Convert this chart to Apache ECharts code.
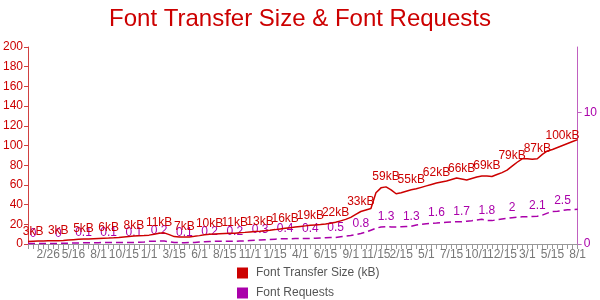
<!DOCTYPE html>
<html>
<head>
<meta charset="utf-8">
<script src="https://cdn.jsdelivr.net/npm/echarts@6/dist/echarts.min.js"></script>
<style>html,body{margin:0;padding:0;background:#fff}#c{width:600px;height:300px}</style>
</head>
<body>
<div id="c"></div>
<script>
const dates = [
'12/28/10','1/20/11','1/31/11','2/11/11','2/26/11','3/15/11','3/29/11','4/15/11','4/30/11','5/16/11',
'6/1/11','6/15/11','7/1/11','7/15/11','8/1/11','8/15/11','9/1/11','9/15/11','10/1/11','10/15/11',
'11/1/11','11/15/11','12/1/11','12/15/11','1/1/12','1/15/12','2/1/12','2/15/12','3/1/12','3/15/12',
'4/1/12','4/15/12','5/1/12','5/15/12','6/1/12','6/15/12','7/1/12','7/15/12','8/1/12','8/15/12',
'9/1/12','9/15/12','10/1/12','10/15/12','11/1/12','11/15/12','12/1/12','12/15/12','1/1/13','1/15/13',
'2/1/13','2/15/13','3/1/13','3/15/13','4/1/13','4/15/13','5/1/13','5/15/13','6/1/13','6/15/13',
'7/1/13','7/15/13','8/1/13','8/15/13','9/1/13','9/15/13','10/1/13','10/15/13','11/1/13','11/15/13',
'12/1/13','1/1/14','1/15/14','2/1/14','2/15/14','3/1/14','3/15/14','4/1/14','4/15/14','5/1/14',
'5/15/14','6/1/14','6/15/14','7/1/14','7/15/14','8/1/14','8/15/14','9/1/14','9/15/14','10/1/14',
'10/15/14','11/1/14','11/15/14','12/1/14','12/15/14','1/1/15','1/15/15','2/1/15','2/15/15','3/1/15',
'3/15/15','4/1/15','4/15/15','5/1/15','5/15/15','6/1/15','6/15/15','7/1/15','7/15/15','8/1/15'
];
const transferKB = [
2.5,2.8,3.0,3.1,3.2,3.3,3.4,3.6,4.0,4.4,
4.8,5.0,5.2,5.4,5.6,5.8,6.0,6.3,6.7,7.2,
7.6,8.0,8.3,8.6,9.0,10.0,11.0,11.3,9.5,7.5,
7.0,7.0,7.2,7.8,8.5,9.3,10.0,10.2,10.4,10.6,
10.8,11.0,11.4,11.8,12.3,12.7,13.0,13.5,14.0,14.6,
15.3,16.0,16.6,17.2,17.8,18.4,19.0,19.4,19.8,20.3,
21.0,22.0,23.5,25.0,27.0,30.0,33.0,34.5,36.0,52.0,
57.0,58.0,55.0,51.0,52.0,53.5,55.0,56.0,57.5,59.0,
60.5,62.0,63.0,64.0,65.5,67.0,66.0,65.0,66.5,68.0,
69.0,69.0,68.5,70.5,72.5,75.0,79.0,83.0,86.5,86.5,
86.0,86.5,91.0,94.5,96.0,98.0,100.0,102.0,104.0,106.0
];
const fontRequests = [
0.03,0.03,0.03,0.04,0.04,0.04,0.05,0.05,0.06,0.07,
0.08,0.10,0.10,0.10,0.10,0.11,0.11,0.11,0.11,0.12,
0.12,0.12,0.13,0.15,0.20,0.21,0.22,0.22,0.18,0.12,
0.10,0.10,0.11,0.12,0.15,0.18,0.19,0.20,0.20,0.20,
0.20,0.20,0.22,0.24,0.26,0.28,0.30,0.32,0.34,0.37,
0.39,0.40,0.40,0.41,0.41,0.42,0.42,0.44,0.46,0.48,
0.49,0.50,0.55,0.60,0.65,0.72,0.80,0.90,1.05,1.20,
1.30,1.32,1.30,1.30,1.31,1.33,1.35,1.45,1.50,1.55,
1.58,1.60,1.63,1.66,1.68,1.70,1.70,1.74,1.77,1.82,
1.88,1.80,1.78,1.85,1.90,1.95,2.00,2.04,2.07,2.08,
2.10,2.12,2.20,2.35,2.48,2.50,2.55,2.60,2.62,2.65
];
const labelIndex = [1,6,11,16,21,26,31,36,41,46,51,56,61,66,71,76,81,86,91,96,101,106];
const transferLabels = ['3kB','3kB','5kB','6kB','8kB','11kB','7kB','10kB','11kB','13kB','16kB','19kB','22kB','33kB','59kB','55kB','62kB','66kB','69kB','79kB','87kB','100kB'];
const requestLabels = ['0','0','0.1','0.1','0.1','0.2','0.1','0.2','0.2','0.3','0.4','0.4','0.5','0.8','1.3','1.3','1.6','1.7','1.8','2','2.1','2.5'];

const RED = '#cc0000', PURPLE = '#aa00aa';
const FONT = 'Liberation Sans, Arial, sans-serif';
function buildData(values, texts, color) {
  return values.map((v, i) => {
    const k = labelIndex.indexOf(i);
    if (k < 0) return v;
    return { value: v, label: { show: true, formatter: texts[k], color: color } };
  });
}
const chart = echarts.init(document.getElementById('c'), null, {renderer: 'canvas'});
chart.setOption({
  animation: false,
  textStyle: { fontFamily: FONT },
  title: {
    text: 'Font Transfer Size & Font Requests',
    left: 'center', top: 2,
    textStyle: { color: RED, fontSize: 24, fontWeight: 'normal', fontFamily: FONT }
  },
  legend: {
    orient: 'vertical', left: 237, top: 267, padding: 0, itemGap: 8,
    height: 40, width: 250,
    itemWidth: 11, itemHeight: 11, icon: 'rect',
    textStyle: { color: '#555', fontSize: 12, fontFamily: FONT, padding: [0, 0, 0, 3] },
    data: ['Font Transfer Size (kB)', 'Font Requests']
  },
  grid: { left: 27, right: 20, top: 47, bottom: 56, containLabel: false },
  xAxis: {
    type: 'category', data: dates, boundaryGap: false,
    axisLine: { lineStyle: { color: '#999' } },
    axisTick: { show: true, interval: 0, length: 5, lineStyle: { color: '#999' } },
    axisLabel: {
      interval: (i) => i % 5 === 4,
      formatter: (v) => v.split('/').slice(0, 2).join('/'),
      color: '#777', fontSize: 12, margin: 5
    },
    splitLine: { show: false }
  },
  yAxis: [
    {
      type: 'value', min: 0, max: 200, interval: 20, position: 'left',
      axisLine: { show: true, lineStyle: { color: '#d04040' } },
      axisTick: { show: true, length: 4, lineStyle: { color: '#d04040' } },
      axisLabel: { color: RED, fontSize: 12, margin: 5 },
      splitLine: { show: false }
    },
    {
      type: 'value', min: 0, max: 15, interval: 10, position: 'right',
      axisLine: { show: true, lineStyle: { color: '#c060c0' } },
      axisTick: { show: true, length: 4, lineStyle: { color: '#c060c0' } },
      axisLabel: { color: PURPLE, fontSize: 12, margin: 6, showMaxLabel: false },
      splitLine: { show: false }
    }
  ],
  series: [
    {
      name: 'Font Transfer Size (kB)', type: 'line', yAxisIndex: 0,
      data: buildData(transferKB, transferLabels, RED),
      color: RED, symbol: 'circle', symbolSize: 0, showSymbol: true, showAllSymbol: true,
      lineStyle: { color: RED, width: 1.5 },
      label: { position: 'top', distance: 4, fontSize: 12 },
      z: 3
    },
    {
      name: 'Font Requests', type: 'line', yAxisIndex: 1,
      data: buildData(fontRequests, requestLabels, PURPLE),
      color: PURPLE, symbol: 'circle', symbolSize: 0, showSymbol: true, showAllSymbol: true,
      lineStyle: { color: PURPLE, width: 1.5, type: [7, 4] },
      label: { position: 'top', distance: 4, fontSize: 12 },
      z: 2
    }
  ]
});
</script>
</body>
</html>
